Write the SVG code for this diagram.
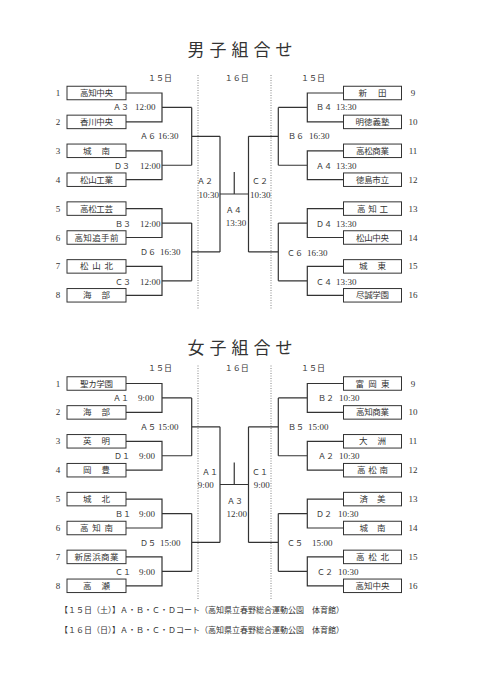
<svg xmlns="http://www.w3.org/2000/svg" width="481" height="680" viewBox="0 0 481 680">
<style>
.bg{fill:#fff}
.box{fill:#fff;stroke:#333;stroke-width:1}
.nm{font-family:"Noto Sans CJK JP",sans-serif;font-size:8.5px;fill:#333;text-anchor:middle}
.num{font-family:"Liberation Serif",serif;font-size:9px;fill:#333;text-anchor:middle}
.lb{font-family:"Noto Sans CJK JP",sans-serif;font-size:8px;fill:#333}
.tm{font-family:"Liberation Serif",serif;font-size:9px;fill:#333}
.c{text-anchor:middle}
.ttl{font-family:"Noto Sans CJK JP",sans-serif;font-size:17px;fill:#333;text-anchor:middle;letter-spacing:5px}
.hd{font-family:"Noto Sans CJK JP",sans-serif;font-size:8px;fill:#333;text-anchor:middle}
.ft{font-family:"Noto Sans CJK JP",sans-serif;font-size:8px;fill:#333}
.ln{fill:none;stroke:#333;stroke-width:1.2}
.dot{fill:none;stroke:#666;stroke-width:0.8;stroke-dasharray:1 1.5}
</style>
<rect class="bg" x="0" y="0" width="481" height="680"/>

<!-- ===== BOYS ===== -->
<text class="ttl" x="242.5" y="55.5">男子組合せ</text>
<text class="hd" x="160" y="80.7">１５日</text>
<text class="hd" x="236.7" y="80.7">１６日</text>
<text class="hd" x="313" y="80.7">１５日</text>

<g id="dots-boys">
<line class="dot" x1="198" y1="75" x2="198" y2="310"/>
<line class="dot" x1="271" y1="75" x2="271" y2="310"/>
</g>

<g id="connectors-boys">
<path class="ln" d="M126 93 H162 V121.9 H126 M162 107.45 H191.7 M126 150.8 H162 V179.7 H126 M162 165.25 H191.7 M191.7 107.45 V165.25 M191.7 136.35 H220 M126 208.6 H162 V237.5 H126 M162 223.05 H191.7 M126 266.4 H162 V295.3 H126 M162 280.85 H191.7 M191.7 223.05 V280.85 M191.7 251.95 H220 M220 136.35 V251.95"/>
<path class="ln" d="M343.5 93 H307.3 V121.9 H343.5 M307.3 107.45 H278.3 M343.5 150.8 H307.3 V179.7 H343.5 M307.3 165.25 H278.3 M278.3 107.45 V165.25 M278.3 136.35 H248.5 M343.5 208.6 H307.3 V237.5 H343.5 M307.3 223.05 H278.3 M343.5 266.4 H307.3 V295.3 H343.5 M307.3 280.85 H278.3 M278.3 223.05 V280.85 M278.3 251.95 H248.5 M248.5 136.35 V251.95"/>
<path class="ln" d="M220 194 H248.5 M234.25 172 V194"/>
</g>

<g id="boys-left">
<g id="m1"><text class="num" x="58" y="96">1</text><rect class="box" x="67" y="86.25" width="59" height="13.5"/><text class="nm" x="96.5" y="96" textLength="33" lengthAdjust="spacing">高知中央</text></g>
<g id="m2"><text class="num" x="58" y="124.9">2</text><rect class="box" x="67" y="115.15" width="59" height="13.5"/><text class="nm" x="96.5" y="124.9" textLength="33" lengthAdjust="spacing">香川中央</text></g>
<g id="m3"><text class="num" x="58" y="153.8">3</text><rect class="box" x="67" y="144.05" width="59" height="13.5"/><text class="nm" x="96.5" y="153.8" textLength="27" lengthAdjust="spacing">城　南</text></g>
<g id="m4"><text class="num" x="58" y="182.7">4</text><rect class="box" x="67" y="172.95" width="59" height="13.5"/><text class="nm" x="96.5" y="182.7" textLength="33" lengthAdjust="spacing">松山工業</text></g>
<g id="m5"><text class="num" x="58" y="211.6">5</text><rect class="box" x="67" y="201.85" width="59" height="13.5"/><text class="nm" x="96.5" y="211.6" textLength="33" lengthAdjust="spacing">高松工芸</text></g>
<g id="m6"><text class="num" x="58" y="240.5">6</text><rect class="box" x="67" y="230.75" width="59" height="13.5"/><text class="nm" x="96.5" y="240.5" textLength="44" lengthAdjust="spacing">高知追手前</text></g>
<g id="m7"><text class="num" x="58" y="269.4">7</text><rect class="box" x="67" y="259.65" width="59" height="13.5"/><text class="nm" x="96.5" y="269.4" textLength="33" lengthAdjust="spacing">松 山 北</text></g>
<g id="m8"><text class="num" x="58" y="298.3">8</text><rect class="box" x="67" y="288.55" width="59" height="13.5"/><text class="nm" x="96.5" y="298.3" textLength="27" lengthAdjust="spacing">海　部</text></g>
</g>

<g id="boys-right">
<g id="m9"><rect class="box" x="343.5" y="86.25" width="58" height="13.5"/><text class="nm" x="372.5" y="96" textLength="28" lengthAdjust="spacing">新　田</text><text class="num" x="413" y="96">9</text></g>
<g id="m10"><rect class="box" x="343.5" y="115.15" width="58" height="13.5"/><text class="nm" x="372.5" y="124.9" textLength="34" lengthAdjust="spacing">明徳義塾</text><text class="num" x="413" y="124.9">10</text></g>
<g id="m11"><rect class="box" x="343.5" y="144.05" width="58" height="13.5"/><text class="nm" x="372.5" y="153.8" textLength="33" lengthAdjust="spacing">高松商業</text><text class="num" x="413" y="153.8">11</text></g>
<g id="m12"><rect class="box" x="343.5" y="172.95" width="58" height="13.5"/><text class="nm" x="372.5" y="182.7" textLength="33" lengthAdjust="spacing">徳島市立</text><text class="num" x="413" y="182.7">12</text></g>
<g id="m13"><rect class="box" x="343.5" y="201.85" width="58" height="13.5"/><text class="nm" x="372.5" y="211.6" textLength="31" lengthAdjust="spacing">高 知 工</text><text class="num" x="413" y="211.6">13</text></g>
<g id="m14"><rect class="box" x="343.5" y="230.75" width="58" height="13.5"/><text class="nm" x="372.5" y="240.5" textLength="33" lengthAdjust="spacing">松山中央</text><text class="num" x="413" y="240.5">14</text></g>
<g id="m15"><rect class="box" x="343.5" y="259.65" width="58" height="13.5"/><text class="nm" x="372.5" y="269.4" textLength="27" lengthAdjust="spacing">城　東</text><text class="num" x="413" y="269.4">15</text></g>
<g id="m16"><rect class="box" x="343.5" y="288.55" width="58" height="13.5"/><text class="nm" x="372.5" y="298.3" textLength="33" lengthAdjust="spacing">尽誠学園</text><text class="num" x="413" y="298.3">16</text></g>
</g>

<g id="boys-labels">
<text class="lb" x="113" y="110.3">Ａ３</text><text class="tm" x="135" y="110.3">12:00</text>
<text class="lb" x="140" y="139">Ａ６</text><text class="tm" x="158" y="139">16:30</text>
<text class="lb" x="114" y="168.5">Ｄ３</text><text class="tm" x="140" y="168.5">12:00</text>
<text class="lb" x="115" y="227">Ｂ３</text><text class="tm" x="140" y="227">12:00</text>
<text class="lb" x="140" y="255">Ｄ６</text><text class="tm" x="160" y="255">16:30</text>
<text class="lb" x="115" y="284.5">Ｃ３</text><text class="tm" x="140" y="284.5">12:00</text>
<text class="lb" x="316" y="110.3">Ｂ４</text><text class="tm" x="336" y="110.3">13:30</text>
<text class="lb" x="288" y="139">Ｂ６</text><text class="tm" x="309" y="139">16:30</text>
<text class="lb" x="316" y="168.5">Ａ４</text><text class="tm" x="336" y="168.5">13:30</text>
<text class="lb" x="316" y="227">Ｄ４</text><text class="tm" x="336" y="227">13:30</text>
<text class="lb" x="287" y="256">Ｃ６</text><text class="tm" x="307" y="256">16:30</text>
<text class="lb" x="316" y="284.5">Ｃ４</text><text class="tm" x="336" y="284.5">13:30</text>
<text class="lb c" x="205" y="183.7">Ａ２</text><text class="tm c" x="208.7" y="198">10:30</text>
<text class="lb c" x="233.7" y="213">Ａ４</text><text class="tm c" x="236" y="226.3">13:30</text>
<text class="lb c" x="260" y="183.7">Ｃ２</text><text class="tm c" x="260.3" y="198">10:30</text>
</g>

<!-- ===== GIRLS ===== -->
<text class="ttl" x="242.5" y="353.5">女子組合せ</text>
<text class="hd" x="160" y="371">１５日</text>
<text class="hd" x="236.7" y="371">１６日</text>
<text class="hd" x="313" y="371">１５日</text>

<g id="dots-girls">
<line class="dot" x1="198" y1="365.5" x2="198" y2="600"/>
<line class="dot" x1="271" y1="365.5" x2="271" y2="600"/>
</g>

<g id="connectors-girls" transform="translate(0,290.5)">
<path class="ln" d="M126 93 H162 V121.9 H126 M162 107.45 H191.7 M126 150.8 H162 V179.7 H126 M162 165.25 H191.7 M191.7 107.45 V165.25 M191.7 136.35 H220 M126 208.6 H162 V237.5 H126 M162 223.05 H191.7 M126 266.4 H162 V295.3 H126 M162 280.85 H191.7 M191.7 223.05 V280.85 M191.7 251.95 H220 M220 136.35 V251.95"/>
<path class="ln" d="M343.5 93 H307.3 V121.9 H343.5 M307.3 107.45 H278.3 M343.5 150.8 H307.3 V179.7 H343.5 M307.3 165.25 H278.3 M278.3 107.45 V165.25 M278.3 136.35 H248.5 M343.5 208.6 H307.3 V237.5 H343.5 M307.3 223.05 H278.3 M343.5 266.4 H307.3 V295.3 H343.5 M307.3 280.85 H278.3 M278.3 223.05 V280.85 M278.3 251.95 H248.5 M248.5 136.35 V251.95"/>
<path class="ln" d="M220 194 H248.5 M234.25 172 V194"/>
</g>

<g id="girls-left">
<g id="w1"><text class="num" x="58" y="386.5">1</text><rect class="box" x="67" y="376.75" width="59" height="13.5"/><text class="nm" x="96.5" y="386.5" textLength="33" lengthAdjust="spacing">聖カ学園</text></g>
<g id="w2"><text class="num" x="58" y="415.4">2</text><rect class="box" x="67" y="405.65" width="59" height="13.5"/><text class="nm" x="96.5" y="415.4" textLength="27" lengthAdjust="spacing">海　部</text></g>
<g id="w3"><text class="num" x="58" y="444.3">3</text><rect class="box" x="67" y="434.55" width="59" height="13.5"/><text class="nm" x="96.5" y="444.3" textLength="27" lengthAdjust="spacing">英　明</text></g>
<g id="w4"><text class="num" x="58" y="473.2">4</text><rect class="box" x="67" y="463.45" width="59" height="13.5"/><text class="nm" x="96.5" y="473.2" textLength="27" lengthAdjust="spacing">岡　豊</text></g>
<g id="w5"><text class="num" x="58" y="502.1">5</text><rect class="box" x="67" y="492.35" width="59" height="13.5"/><text class="nm" x="96.5" y="502.1" textLength="27" lengthAdjust="spacing">城　北</text></g>
<g id="w6"><text class="num" x="58" y="531">6</text><rect class="box" x="67" y="521.25" width="59" height="13.5"/><text class="nm" x="96.5" y="531" textLength="33" lengthAdjust="spacing">高 知 南</text></g>
<g id="w7"><text class="num" x="58" y="559.9">7</text><rect class="box" x="67" y="550.15" width="59" height="13.5"/><text class="nm" x="96.5" y="559.9" textLength="44" lengthAdjust="spacing">新居浜商業</text></g>
<g id="w8"><text class="num" x="58" y="588.8">8</text><rect class="box" x="67" y="579.05" width="59" height="13.5"/><text class="nm" x="96.5" y="588.8" textLength="27" lengthAdjust="spacing">高　瀬</text></g>
</g>

<g id="girls-right">
<g id="w9"><rect class="box" x="343.5" y="376.75" width="58" height="13.5"/><text class="nm" x="372.5" y="386.5" textLength="34" lengthAdjust="spacing">富 岡 東</text><text class="num" x="413" y="386.5">9</text></g>
<g id="w10"><rect class="box" x="343.5" y="405.65" width="58" height="13.5"/><text class="nm" x="372.5" y="415.4" textLength="33" lengthAdjust="spacing">高知商業</text><text class="num" x="413" y="415.4">10</text></g>
<g id="w11"><rect class="box" x="343.5" y="434.55" width="58" height="13.5"/><text class="nm" x="372.5" y="444.3" textLength="27" lengthAdjust="spacing">大　洲</text><text class="num" x="413" y="444.3">11</text></g>
<g id="w12"><rect class="box" x="343.5" y="463.45" width="58" height="13.5"/><text class="nm" x="372.5" y="473.2" textLength="31" lengthAdjust="spacing">高 松 南</text><text class="num" x="413" y="473.2">12</text></g>
<g id="w13"><rect class="box" x="343.5" y="492.35" width="58" height="13.5"/><text class="nm" x="372.5" y="502.1" textLength="26" lengthAdjust="spacing">済　美</text><text class="num" x="413" y="502.1">13</text></g>
<g id="w14"><rect class="box" x="343.5" y="521.25" width="58" height="13.5"/><text class="nm" x="372.5" y="531" textLength="26" lengthAdjust="spacing">城　南</text><text class="num" x="413" y="531">14</text></g>
<g id="w15"><rect class="box" x="343.5" y="550.15" width="58" height="13.5"/><text class="nm" x="372.5" y="559.9" textLength="33" lengthAdjust="spacing">高 松 北</text><text class="num" x="413" y="559.9">15</text></g>
<g id="w16"><rect class="box" x="343.5" y="579.05" width="58" height="13.5"/><text class="nm" x="372.5" y="588.8" textLength="34" lengthAdjust="spacing">高知中央</text><text class="num" x="413" y="588.8">16</text></g>
</g>

<g id="girls-labels">
<text class="lb" x="113" y="400.5">Ａ１</text><text class="tm" x="138" y="400.5">9:00</text>
<text class="lb" x="140" y="430">Ａ５</text><text class="tm" x="158" y="430">15:00</text>
<text class="lb" x="114" y="459">Ｄ１</text><text class="tm" x="139" y="459">9:00</text>
<text class="lb" x="115" y="517">Ｂ１</text><text class="tm" x="139" y="517">9:00</text>
<text class="lb" x="140" y="546">Ｄ５</text><text class="tm" x="160" y="546">15:00</text>
<text class="lb" x="115" y="575">Ｃ１</text><text class="tm" x="139" y="575">9:00</text>
<text class="lb" x="318" y="400.7">Ｂ２</text><text class="tm" x="339" y="400.7">10:30</text>
<text class="lb" x="288" y="430.3">Ｂ５</text><text class="tm" x="308" y="430.3">15:00</text>
<text class="lb" x="318" y="459">Ａ２</text><text class="tm" x="339" y="459">10:30</text>
<text class="lb" x="316" y="517">Ｄ２</text><text class="tm" x="338" y="517">10:30</text>
<text class="lb" x="287" y="546.3">Ｃ５</text><text class="tm" x="312" y="546.3">15:00</text>
<text class="lb" x="317" y="575.3">Ｃ２</text><text class="tm" x="338" y="575.3">10:30</text>
<text class="lb c" x="210" y="474.7">Ａ１</text><text class="tm c" x="205.8" y="488">9:00</text>
<text class="lb c" x="235" y="503.7">Ａ３</text><text class="tm c" x="236.7" y="517">12:00</text>
<text class="lb c" x="260" y="474.7">Ｃ１</text><text class="tm c" x="261.7" y="488">9:00</text>
</g>

<g id="footer">
<text class="ft" x="60" y="613">【１５日（土）】Ａ・Ｂ・Ｃ・Ｄコート（高知県立春野総合運動公園　体育館）</text>
<text class="ft" x="60" y="633">【１６日（日）】Ａ・Ｂ・Ｃ・Ｄコート（高知県立春野総合運動公園　体育館）</text>
</g>
</svg>
